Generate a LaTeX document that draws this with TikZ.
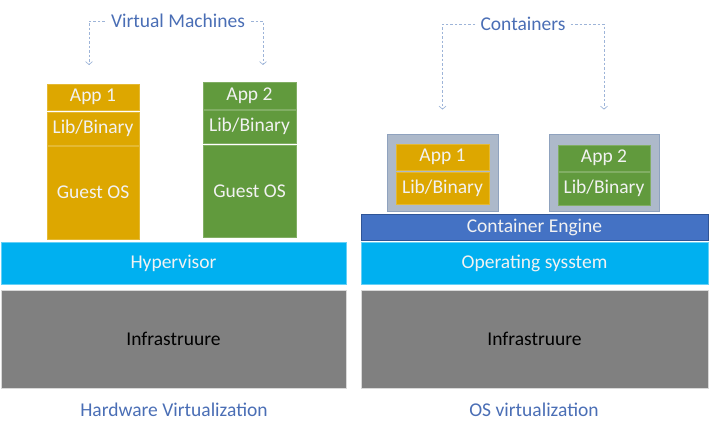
\documentclass[tikz,border=0pt]{standalone}
\usepackage{fontspec}
\setmainfont{Carlito}
\usepackage{xcolor}
\usepackage{tikz}
\usetikzlibrary{arrows.meta}
\definecolor{gold}{HTML}{DDA700}
\definecolor{leaf}{HTML}{619A3D}
\definecolor{sky}{HTML}{00B0F0}
\definecolor{engine}{HTML}{4472C4}
\definecolor{enginedark}{HTML}{2F5597}
\definecolor{stone}{HTML}{808080}
\definecolor{shell}{HTML}{ADB9CA}
\definecolor{shelledge}{HTML}{8FA2BE}
\definecolor{heading}{HTML}{4A6EB5}
\definecolor{hint}{HTML}{9DB4D8}
\tikzset{
  layer/.style={rectangle, inner sep=0pt, outer sep=0pt, text=white!95!black,
    font=\fontsize{19.5}{23}\selectfont},
  goldbox/.style={layer, fill=gold, draw=gold!80!white, line width=0.6pt},
  leafbox/.style={layer, fill=leaf, draw=leaf!80!white, line width=0.6pt},
  skybar/.style={layer, fill=sky, draw=sky!60!white, line width=0.6pt},
  enginebar/.style={layer, fill=engine, draw=enginedark, line width=0.6pt},
  infra/.style={layer, fill=stone, draw=black!15, line width=0.8pt, text=black},
  shellbox/.style={rectangle, fill=shell, draw=shelledge, line width=0.8pt},
  caption/.style={text=heading, inner sep=5pt, font=\fontsize{19.5}{23}\selectfont},
  hintline/.style={draw=hint, line width=0.7pt, dash pattern=on 2.5pt off 2pt,
    -{Straight Barb[length=3pt,width=7pt]}}
}
\begin{document}
\begin{tikzpicture}[x=1pt,y=-1pt]
  \useasboundingbox (0,0) rectangle (709,433);

  % hardware virtualization
  \node[goldbox, minimum width=92, minimum height=26] (vmapp1) at (93,97) {App 1};
  \node[goldbox, minimum width=92, minimum height=33] (vmlib1) at (93,128.5) {Lib/Binary};
  \node[goldbox, minimum width=92, minimum height=93] (vmos1) at (93,192.5) {Guest OS};
  \node[leafbox, minimum width=93, minimum height=27] (vmapp2) at (249.5,95.5) {App 2};
  \node[leafbox, minimum width=93, minimum height=33] (vmlib2) at (249.5,126.5) {Lib/Binary};
  \node[leafbox, minimum width=93, minimum height=92] (vmos2) at (249.5,191) {Guest OS};
  \node[skybar, minimum width=345, minimum height=42] (hyp) at (173.5,263) {Hypervisor};
  \node[infra, minimum width=345, minimum height=98] (infraL) at (173.5,339) {Infrastruure};
  \node[caption] (hwv) at (174,410) {Hardware Virtualization};

  \node[caption, inner sep=6pt] (vm) at (178,21) {Virtual Machines};
  \coordinate (vmL) at (89,65);
  \coordinate (vmR) at (263,65);
  \draw[hintline] (vm.west) -| (vmL);
  \draw[hintline] (vm.east) -| (vmR);

  % os virtualization
  \node[shellbox, minimum width=111, minimum height=77] (cbox1) at (442.5,172.5) {};
  \node[shellbox, minimum width=110, minimum height=77] (cbox2) at (604,172.5) {};
  \node[goldbox, minimum width=93, minimum height=26] (capp1) at (442.5,157) {App 1};
  \node[goldbox, minimum width=93, minimum height=32] (clib1) at (442.5,188) {Lib/Binary};
  \node[leafbox, minimum width=92, minimum height=26] (capp2) at (604,158) {App 2};
  \node[leafbox, minimum width=92, minimum height=33] (clib2) at (604,188.5) {Lib/Binary};
  \node[enginebar, minimum width=347, minimum height=26] (eng) at (534.5,227) {Container Engine};
  \node[skybar, minimum width=347, minimum height=42] (osys) at (534.5,263) {Operating sysstem};
  \node[infra, minimum width=347, minimum height=98] (infraR) at (534.5,339) {Infrastruure};
  \node[caption] (osv) at (534,410) {OS virtualization};

  \node[caption] (ct) at (523,24) {Containers};
  \draw[hintline, shorten >=24pt] (ct.west) -| (cbox1.north);
  \draw[hintline, shorten >=24pt] (ct.east) -| (cbox2.north);
\end{tikzpicture}
\end{document}
